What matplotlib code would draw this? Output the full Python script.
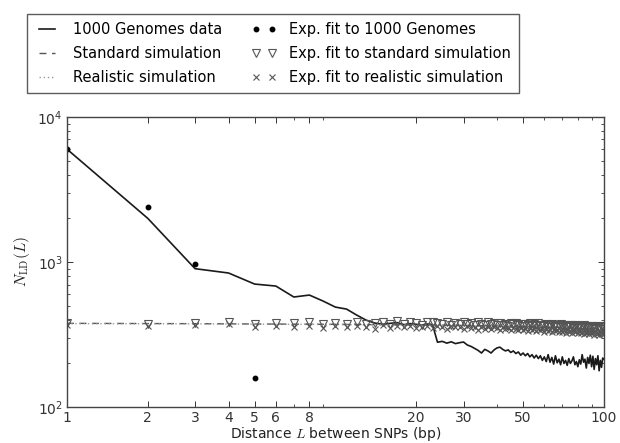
import matplotlib
matplotlib.use("Agg")
import matplotlib.pyplot as plt
from matplotlib.ticker import FixedLocator, FixedFormatter, LogLocator, NullFormatter

plt.rcParams["mathtext.fontset"] = "cm"
plt.rcParams["font.family"] = ["DejaVu Sans"]

# -----------------------------------------------------------------
# Data
# -----------------------------------------------------------------
dist = list(range(1, 101))

genomes_data = [
    6000, 2000, 900, 840, 705, 683, 574, 592, 538, 489,
    474, 431, 398, 380, 372, 378, 382, 370, 376, 372,
    368, 374, 370, 280, 284, 276, 282, 274, 278, 281,
    268, 262, 254, 246, 236, 250, 244, 236, 248, 256,
    259, 250, 244, 248, 238, 244, 234, 240, 228, 236,
    226, 234, 222, 230, 218, 228, 216, 226, 210, 222,
    206, 230, 204, 220, 198, 226, 202, 214, 196, 222,
    200, 210, 194, 216, 200, 208, 222, 196, 206, 190,
    212, 198, 230, 204, 214, 186, 220, 200, 228, 190,
    224, 182, 216, 196, 226, 178, 210, 188, 218, 214,
]

sim_dist = [1, 3, 5, 10, 15, 20, 30, 40, 50, 60, 70, 80, 90, 100]
standard_sim = [378, 376, 374, 372, 370, 368, 366, 362, 360, 356, 354, 350, 348, 346]
realistic_sim = [376, 375, 373, 371, 369, 367, 364, 361, 358, 355, 352, 349, 347, 344]

fit_genomes_dist = [1, 2, 3, 5]
fit_genomes = [6000, 2380, 970, 158]

fit_standard = [
    382, 372, 380, 386, 376, 380, 378, 386, 376, 382,
    374, 384, 372, 380, 386, 376, 390, 372, 384, 378,
    370, 386, 388, 380, 374, 384, 370, 382, 376, 386,
    372, 380, 370, 384, 376, 366, 386, 372, 378, 368,
    382, 370, 376, 364, 380, 372, 382, 366, 374, 362,
    376, 368, 380, 362, 372, 366, 378, 360, 370, 364,
    374, 358, 368, 372, 362, 370, 356, 366, 372, 360,
    368, 356, 364, 370, 358, 366, 352, 362, 368, 356,
    364, 350, 360, 366, 354, 362, 350, 358, 364, 352,
    360, 348, 356, 362, 350, 358, 346, 354, 360, 348,
]

fit_realistic = [
    368, 360, 366, 372, 358, 362, 356, 364, 352, 360,
    354, 362, 356, 348, 366, 352, 360, 356, 364, 350,
    358, 362, 352, 360, 356, 348, 362, 354, 358, 346,
    360, 350, 356, 342, 358, 348, 354, 344, 356, 350,
    342, 354, 346, 352, 340, 350, 344, 338, 352, 342,
    348, 336, 350, 340, 346, 334, 348, 338, 344, 332,
    346, 336, 342, 330, 344, 334, 340, 328, 342, 332,
    338, 326, 340, 330, 336, 324, 338, 328, 334, 322,
    336, 326, 332, 320, 334, 324, 330, 318, 332, 322,
    328, 316, 330, 320, 326, 314, 328, 318, 324, 320,
]

x_ticks = [1, 2, 3, 4, 5, 6, 8, 20, 30, 50, 100]
x_tick_labels = ["1", "2", "3", "4", "5", "6", "8", "20", "30", "50", "100"]

# -----------------------------------------------------------------
# Plot
# -----------------------------------------------------------------
fig = plt.figure(figsize=(6.2, 4.43), dpi=100)
ax = fig.add_axes([0.108, 0.081, 0.866, 0.655])

ax.plot(dist, genomes_data, color="#1a1a1a", linewidth=1.2,
        label="1000 Genomes data")
ax.plot(sim_dist, standard_sim, color="#555555", linewidth=1.0,
        linestyle=(0, (5, 4)), label="Standard simulation")
ax.plot(sim_dist, realistic_sim, color="#999999", linewidth=1.0,
        linestyle=(0, (1, 2)), label="Realistic simulation")
ax.plot(fit_genomes_dist, fit_genomes, linestyle="none", marker="o",
        markersize=3.2, color="black", label="Exp. fit to 1000 Genomes")
ax.plot(dist, fit_standard, linestyle="none", marker="v", markersize=5.5,
        markerfacecolor="none", markeredgecolor="#555555",
        markeredgewidth=0.8, label="Exp. fit to standard simulation")
ax.plot(dist, fit_realistic, linestyle="none", marker="x", markersize=5,
        color="#555555", markeredgewidth=0.8,
        label="Exp. fit to realistic simulation")

ax.set_xscale("log")
ax.set_yscale("log")
ax.set_xlim(1, 100)
ax.set_ylim(100, 10000)

ax.xaxis.set_major_locator(FixedLocator(x_ticks))
ax.xaxis.set_major_formatter(FixedFormatter(x_tick_labels))
ax.xaxis.set_minor_locator(LogLocator(base=10, subs=range(2, 10)))
ax.xaxis.set_minor_formatter(NullFormatter())

ax.tick_params(which="both", direction="in", top=True, right=True,
               labelsize=10, colors="#333333", pad=3)
ax.tick_params(which="major", length=4.5, width=0.7)
ax.tick_params(which="minor", length=2.5, width=0.6)
for spine in ax.spines.values():
    spine.set_color("#444444")
    spine.set_linewidth(1.0)

ax.set_xlabel("Distance $L$ between SNPs (bp)", fontsize=10, labelpad=0,
              color="#222222")
ax.set_ylabel(r"$N_{\rm LD}(L)$", fontsize=11, labelpad=4, color="#222222")

handles, labels = ax.get_legend_handles_labels()
leg = fig.legend(handles, labels, loc="upper left", ncol=2,
                 bbox_to_anchor=(0.0435, 0.968), borderaxespad=0,
                 fontsize=10.5, numpoints=2, fancybox=False,
                 handlelength=1.7, handletextpad=0.9, columnspacing=2.0,
                 labelspacing=0.62, borderpad=0.55)
leg.get_frame().set_edgecolor("#333333")
leg.get_frame().set_linewidth(1.0)

fig.savefig("out.png", dpi=100)
